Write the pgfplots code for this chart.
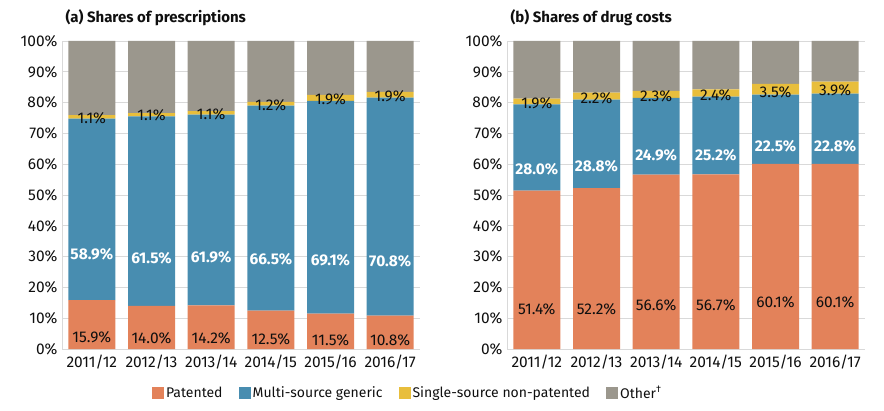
\documentclass[border=0pt]{standalone}
\usepackage{pgfplots}
\pgfplotsset{compat=1.18}
\usepackage{pgfplotstable}
\usepackage{fontspec}
\setmainfont{Fira Sans}
\definecolor{cpat}{RGB}{227,130,90}
\definecolor{cgen}{RGB}{72,141,176}
\definecolor{csin}{RGB}{232,190,60}
\definecolor{coth}{RGB}{155,151,141}
\definecolor{cgrid}{RGB}{217,217,217}
\definecolor{ctxt}{RGB}{15,15,15}

\pgfplotstableread{
x pat gen sin oth
0 15.9 58.9 1.1 24.1
1 14.0 61.5 1.1 23.4
2 14.2 61.9 1.1 22.8
3 12.5 66.5 1.2 19.8
4 11.5 69.1 1.9 17.5
5 10.8 70.8 1.9 16.5
}\presc
\pgfplotstableread{
x pat gen sin oth
0 51.4 28.0 1.9 18.7
1 52.2 28.8 2.2 16.8
2 56.6 24.9 2.3 16.2
3 56.7 25.2 2.4 15.7
4 60.1 22.5 3.5 13.9
5 60.1 22.8 3.9 13.2
}\costs

\pgfplotsset{
  mystyle/.style={
    scale only axis, width=358pt, height=308pt,
    ybar stacked, bar width=47pt,
    xmin=-0.5, xmax=5.5, ymin=0, ymax=100,
    xtick={0,...,5},
    xticklabels={2011/12,2012/13,2013/14,2014/15,2015/16,2016/17},
    ytick={0,10,...,100},
    yticklabel={\pgfmathprintnumber{\tick}\%},
    /pgf/number format/assume math mode=true,
    major tick length=0pt,
    ymajorgrids, grid style={cgrid, line width=0.8pt},
    axis x line*=bottom, axis y line*=left,
    axis line style={cgrid, line width=0.8pt},
    xticklabel style={yshift=-2pt, font=\fontsize{15.5}{17}\selectfont, text=ctxt},
    yticklabel style={xshift=-1pt, font=\fontsize{15.5}{17}\selectfont, text=ctxt},
    title style={at={(0,1)}, anchor=base west, yshift=12pt, font=\fontsize{15}{17}\selectfont\bfseries, text=ctxt},
    visualization depends on={rawy \as \rawy},
    point meta=rawy,
    nodes near coords={\pgfmathprintnumber[fixed,fixed zerofill,precision=1]{\pgfplotspointmeta}\%},
    every node near coord/.append style={anchor=center, yshift={-0.77pt*\rawy}, font=\fontsize{15.5}{17}\selectfont},
    area legend,
  },
  lbl/.style={every node near coord/.append style={text=#1}},
  nolbl/.style={nodes near coords={}},
}

\begin{document}
\begin{tikzpicture}
\path[use as bounding box] (0,0) rectangle (884pt,410pt);
\begin{axis}[mystyle, at={(62pt,61pt)}, anchor=south west,
  title={(a) Shares of prescriptions},
  legend columns=4,
  legend style={at={(0.966,-0.143)}, anchor=center, draw=none, fill=none,
    font=\fontsize{14}{16}\selectfont, text=ctxt,
    /tikz/every even column/.append style={column sep=14pt}},
  legend image code/.code={\fill[#1] (0pt,-6pt) rectangle (12pt,6pt);},
]
\addplot[fill=cpat, draw=none, lbl=ctxt] table[x=x,y=pat]{\presc};
\addplot[fill=cgen, draw=none, lbl=white, every node near coord/.append style={font=\fontsize{15.5}{17}\selectfont\bfseries}] table[x=x,y=gen]{\presc};
\addplot[fill=csin, draw=none, lbl=ctxt] table[x=x,y=sin]{\presc};
\addplot[fill=coth, draw=none, nolbl] table[x=x,y=oth]{\presc};
\legend{Patented, Multi-source generic, Single-source non-patented, Other\textsuperscript{\dag}}
\end{axis}
\begin{axis}[mystyle, at={(507pt,61pt)}, anchor=south west,
  title={(b) Shares of drug costs},
]
\addplot[fill=cpat, draw=none, lbl=ctxt] table[x=x,y=pat]{\costs};
\addplot[fill=cgen, draw=none, lbl=white, every node near coord/.append style={font=\fontsize{15.5}{17}\selectfont\bfseries}] table[x=x,y=gen]{\costs};
\addplot[fill=csin, draw=none, lbl=ctxt] table[x=x,y=sin]{\costs};
\addplot[fill=coth, draw=none, nolbl] table[x=x,y=oth]{\costs};
\end{axis}
\end{tikzpicture}
\end{document}
